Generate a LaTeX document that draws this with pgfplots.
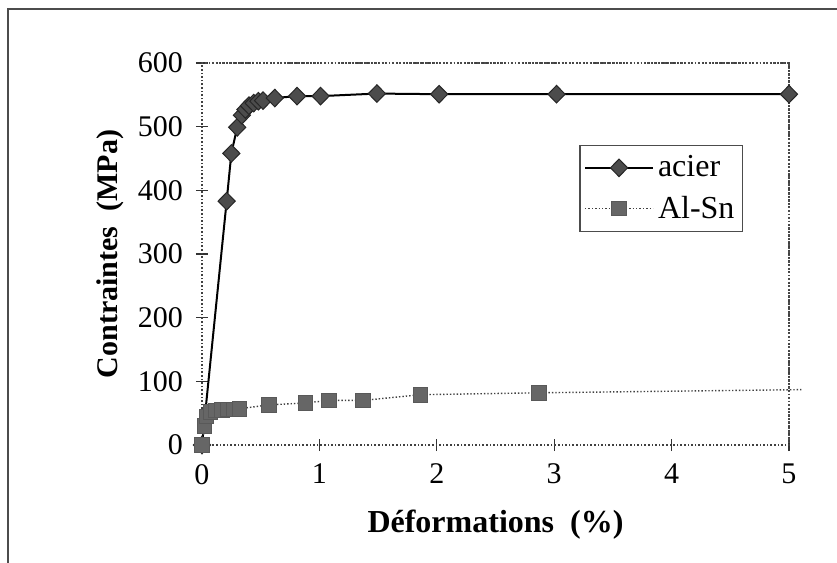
\documentclass[border=0pt]{standalone}
\usepackage{pgfplots}
\pgfplotsset{compat=1.18}
\usepackage{fontspec}
\setmainfont{Liberation Serif}
\begin{document}
\begin{tikzpicture}
\useasboundingbox (0,0) rectangle (418.5pt,281.5pt);
\draw[black!70, line width=0.7pt] (4pt,-10pt) -- (4pt,277pt) -- (430pt,277pt);
\begin{axis}[
  at={(101pt,59pt)}, anchor=south west,
  scale only axis, width=293.5pt, height=191pt,
  xmin=0, xmax=5, ymin=0, ymax=600,
  xtick={0,1,2,3,4,5}, ytick={0,100,...,600},
  xtick pos=bottom, ytick pos=left,
  axis line style={black!75, line width=0.8pt, densely dotted},
  tick style={black!80, line width=0.6pt},
  major tick length=6pt,
  tick align=center,
  every tick label/.style={font=\fontsize{15}{17}\selectfont},
  /pgf/number format/assume math mode=true,
  xticklabel style={yshift=-3pt},
  yticklabel style={xshift=-3pt},
  xlabel={\textbf{Déformations\ \ (\%)}},
  ylabel={\textbf{Contraintes\ \ (MPa)}},
  xlabel style={font=\fontsize{16}{18}\selectfont, at={(axis description cs:0.5,0)}, anchor=center, yshift=-40pt},
  ylabel style={font=\fontsize{15}{17}\selectfont, at={(axis description cs:0,0.5)}, anchor=center, yshift=46pt},
  clip=false,
  legend style={at={(rel axis cs:0.643,0.785)}, anchor=north west,
    draw=black!70, line width=0.6pt, font=\fontsize{16}{18}\selectfont,
    inner xsep=2pt, inner ysep=3pt, row sep=4pt, cells={anchor=west}},
  legend image code/.code={
    \draw[#1, mark=none] (0pt,0pt) -- (34pt,0pt);
    \draw[#1, only marks] plot coordinates {(17pt,0pt)};
  },
]
\addplot[black, line width=1pt, mark=diamond*, mark size=4.4pt,
  mark options={fill=black!70, draw=black!85, line width=0.5pt, solid, xscale=1.3}]
  coordinates {
  (0,0) (0.21,383) (0.25,458) (0.30,499) (0.34,518) (0.37,527) (0.40,533)
  (0.44,537) (0.48,540) (0.52,541) (0.62,545) (0.81,548) (1.01,548)
  (1.49,552) (2.02,551) (3.02,551) (5.0,551)};
\addlegendentry{acier}
\addplot[black!75, line width=0.7pt, densely dotted, mark=square*, mark size=3.6pt,
  mark indices={1,...,15},
  mark options={fill=black!60, draw=black!65, line width=0.4pt, solid}]
  coordinates {
  (0,0) (0.02,30) (0.04,45) (0.07,52) (0.12,54) (0.17,55) (0.22,56)
  (0.27,56) (0.32,57) (0.57,63) (0.88,66) (1.08,70) (1.37,70)
  (1.86,79) (2.87,82) (5.12,87)};
\addlegendentry{Al-Sn}
\draw[black!70, line width=0.7pt, densely dotted] (axis cs:0,600) -- (axis cs:5,600) -- (axis cs:5,0);
\end{axis}
\end{tikzpicture}
\end{document}
